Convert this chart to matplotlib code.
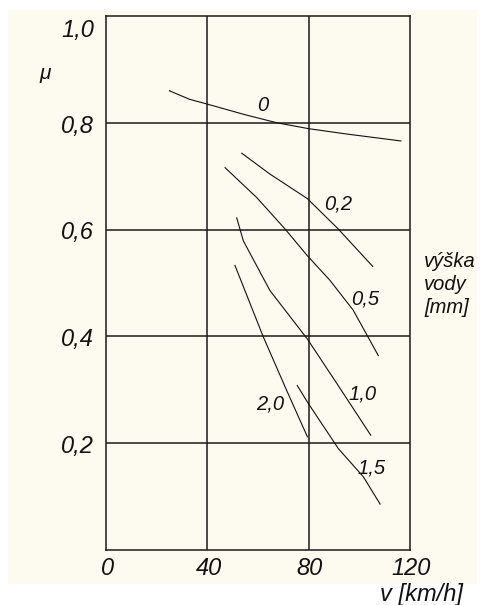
import matplotlib
matplotlib.use("Agg")
import matplotlib.pyplot as plt
from matplotlib.patches import Rectangle

plt.rcParams['font.family'] = ['Liberation Sans', 'DejaVu Sans']

# friction coefficient vs speed for several water film heights [mm]
depth_labels = ['0', '0,2', '0,5', '1,0', '2,0', '1,5']
v_0 = [25, 33, 40, 55, 67.5, 80, 95, 116.4]
mu_0 = [0.860, 0.844, 0.835, 0.815, 0.800, 0.789, 0.779, 0.766]
v_02 = [53.6, 64.7, 79.5, 91.7, 105.3]
mu_02 = [0.743, 0.704, 0.658, 0.601, 0.531]
v_05 = [47, 59.5, 70.7, 79.5, 88.4, 97.6, 107.5]
mu_05 = [0.716, 0.660, 0.601, 0.551, 0.505, 0.449, 0.364]
v_10 = [51.6, 54.2, 64.7, 79.5, 91.1, 104.5]
mu_10 = [0.622, 0.579, 0.486, 0.395, 0.312, 0.215]
v_20 = [50.9, 62.1, 71.3, 79.5]
mu_20 = [0.533, 0.399, 0.299, 0.212]
v_15 = [75.5, 79.5, 91.7, 101.6, 108.2]
mu_15 = [0.308, 0.277, 0.190, 0.137, 0.086]

curves = [(v_0, mu_0), (v_02, mu_02), (v_05, mu_05),
          (v_10, mu_10), (v_20, mu_20), (v_15, mu_15)]
label_pos = [(62, 0.832), (91.7, 0.648), (102.3, 0.470),
             (101.3, 0.293), (65, 0.273), (105, 0.154)]

x_ticks = [0, 40, 80, 120]
x_tick_labels = ['0', '40', '80', '120']
y_ticks = [0.2, 0.4, 0.6, 0.8, 1.0]
y_tick_labels = ['0,2', '0,4', '0,6', '0,8', '1,0']

W, H = 483, 605
fig = plt.figure(figsize=(W / 100, H / 100), dpi=100)
fig.patch.set_facecolor('white')
fig.patches.append(Rectangle((8 / W, 1 - 584 / H), 469 / W, 574 / H,
                             transform=fig.transFigure, facecolor='#fdfaef',
                             edgecolor='none', zorder=-10))

ax = fig.add_axes([106 / W, 1 - 550 / H, 304 / W, 534 / H])
ax.set_facecolor('none')
ax.set_xlim(0, 120)
ax.set_ylim(0, 1.0)
ax.set_xticks([])
ax.set_yticks([])
for s in ax.spines.values():
    s.set_linewidth(1.1)
    s.set_color('#1a1a1a')

for x in x_ticks[1:-1]:
    ax.axvline(x, color='#1a1a1a', lw=1.1)
for y in y_ticks[:-1]:
    ax.axhline(y, color='#1a1a1a', lw=1.1)

for (v, mu), lab, (lx, ly) in zip(curves, depth_labels, label_pos):
    ax.plot(v, mu, color='#111111', lw=0.8)
    ax.text(lx, ly, lab, fontsize=14.5, style='italic', color='#111111',
            ha='center', va='center')

tk = dict(fontsize=17, style='italic', color='#111111', clip_on=False)
for y, lab in zip(y_ticks, y_tick_labels):
    yy = y - 0.028 if y == 1.0 else y - 0.006
    ax.text(-4.7, yy, lab, ha='right', va='center', **tk)
for x, lab in zip(x_ticks, x_tick_labels):
    ax.text(x + 0.5, -0.035, lab, ha='center', va='center', **tk)

ax.text(-24.1, 0.893, 'μ', fontsize=15, style='italic', color='#111111',
        ha='center', va='center', clip_on=False)
ax.text(125.5, 0.497, 'výška\nvody\n[mm]', fontsize=14.5, style='italic',
        color='#111111', ha='left', va='center', linespacing=1.25,
        clip_on=False)
ax.text(124.5, -0.084, 'v [km/h]', fontsize=17, style='italic',
        color='#111111', ha='center', va='center', clip_on=False)

fig.savefig('out.png', dpi=100)
